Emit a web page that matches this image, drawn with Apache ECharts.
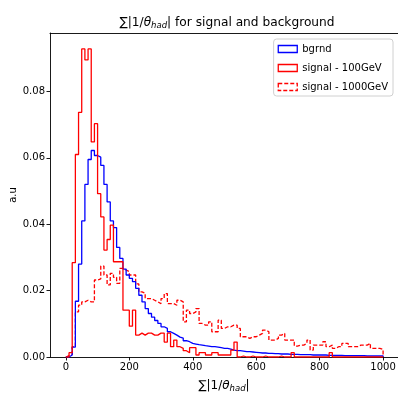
<!DOCTYPE html>
<html>
<head>
<meta charset="utf-8">
<script src="https://cdn.jsdelivr.net/npm/echarts@6/dist/echarts.min.js"></script>
<style>html,body{margin:0;padding:0;background:#fff}#c{width:398px;height:398px}</style>
</head>
<body>
<div id="c"></div>
<script>
// Bin left edges (width 10) from 0 to 990, plus final edge 1000
const binEdges = [0,10,20,30,40,50,60,70,80,90,100,110,120,130,140,150,160,170,180,190,200,210,220,230,240,250,260,270,280,290,300,310,320,330,340,350,360,370,380,390,400,410,420,430,440,450,460,470,480,490,500,510,520,530,540,550,560,570,580,590,600,610,620,630,640,650,660,670,680,690,700,710,720,730,740,750,760,770,780,790,800,810,820,830,840,850,860,870,880,890,900,910,920,930,940,950,960,970,980,990,1000];

const bgrnd = [0,0.0006,0.003,0.0168,0.028,0.041,0.052,0.0595,0.0622,0.0607,
0.0602,0.0577,0.052,0.0467,0.041,0.039,0.033,0.0297,0.0265,0.0247,
0.0237,0.0227,0.0207,0.0186,0.0166,0.0146,0.0131,0.012,0.011,0.0101,
0.0091,0.0086,0.0076,0.0071,0.0066,0.006,0.0057,0.0049,0.0046,0.0041,
0.0039,0.0037,0.0036,0.0034,0.0033,0.0031,0.0031,0.003,0.0028,0.0026,
0.0026,0.0024,0.0021,0.0019,0.0019,0.0018,0.0016,0.0016,0.0015,0.0014,
0.0013,0.0012,0.0012,0.0011,0.0011,0.001,0.001,0.0009,0.0009,0.0009,
0.0008,0.0008,0.0008,0.0007,0.0007,0.0007,0.0007,0.0006,0.0006,0.0006,
0.0006,0.0006,0.0005,0.0005,0.0005,0.0005,0.0005,0.0004,0.0004,0.0004,
0.0004,0.0004,0.0004,0.0004,0.0003,0.0003,0.0003,0.0003,0.0003,0.0003];

const signal100 = [0,0.0013,0.0284,0.061,0.0737,0.0928,0.0895,0.0928,0.0648,0.0703,
0.0492,0.0422,0.0322,0.0354,0.0397,0.0287,0.0287,0.0287,0.0141,0.0141,
0.0093,0.0141,0.0066,0.0072,0.0066,0.0072,0.0072,0.0066,0.0066,0.0072,
0.0072,0.0045,0.0072,0.0031,0.0051,0.0031,0.0026,0.0019,0.0013,0.0028,
0.0028,0.0006,0.0013,0.0013,0.0006,0.0006,0.0013,0.0013,0.0006,0.0006,
0.0006,0.0006,0.0021,0.0045,0,0.0003,0,0,0.0003,0,
0,0,0.0003,0,0,0,0,0.0003,0,0,
0,0.0013,0,0,0,0,0,0,0,0,
0,0,0,0.0013,0,0,0,0,0,0,
0,0,0,0,0,0,0,0,0,0];

const signal1000 = [0.0004,0.0008,0.0031,0.0136,0.0156,0.0166,0.0171,0.0166,0.0166,0.0232,
0.0235,0.0274,0.0247,0.0217,0.0252,0.024,0.0222,0.0267,0.0262,0.0257,
0.0247,0.0247,0.022,0.0196,0.0192,0.0176,0.0176,0.0171,0.0166,0.0161,
0.0176,0.0191,0.0161,0.0161,0.0156,0.0171,0.0166,0.0106,0.0141,0.0131,
0.0136,0.0146,0.0101,0.0096,0.0096,0.0106,0.0076,0.0076,0.0111,0.0086,
0.0091,0.0091,0.0096,0.0096,0.0086,0.0061,0.0061,0.0056,0.0061,0.0061,
0.0066,0.0071,0.0081,0.0076,0.0051,0.0051,0.0056,0.0066,0.0071,0.0051,
0.0051,0.0051,0.0033,0.0036,0.0036,0.0041,0.0051,0.0021,0.0036,0.0036,
0.0036,0.0046,0.0031,0.0036,0.0026,0.0031,0.0031,0.0041,0.0041,0.0031,
0.0031,0.0031,0.0036,0.0036,0.0036,0.0041,0.0026,0.0026,0.0026,0.0023];

const seriesNames = ['bgrnd','signal - 100GeV','signal - 1000GeV'];
const xTicks = [0,200,400,600,800,1000];
const yTicks = [0,0.02,0.04,0.06,0.08];

function stepPoints(vals){
  const pts = [[binEdges[0],0]];
  for (let i=0;i<vals.length;i++){
    pts.push([binEdges[i],vals[i]]);
    pts.push([binEdges[i+1],vals[i]]);
  }
  pts.push([binEdges[vals.length],0]);
  return pts;
}

const FONT = 'DejaVu Sans';
const chart = echarts.init(document.getElementById('c'), null, {renderer:'canvas'});
const mathRich = {
  s:{fontFamily:FONT,fontSize:12.2,fontWeight:'normal',color:'#000'},
  n:{fontFamily:FONT,fontSize:12.2,fontWeight:'normal',color:'#000'},
  it:{fontFamily:FONT,fontStyle:'italic',fontWeight:'normal',fontSize:12.2,color:'#000'},
  sub:{fontFamily:FONT,fontStyle:'italic',fontWeight:'normal',fontSize:8.5,color:'#000',padding:[6,0,0,0]}
};
const axRich = {
  s:{fontFamily:FONT,fontSize:12,color:'#000'},
  n:{fontFamily:FONT,fontSize:12,color:'#000'},
  it:{fontFamily:FONT,fontStyle:'italic',fontSize:12,color:'#000'},
  sub:{fontFamily:FONT,fontStyle:'italic',fontSize:8.5,color:'#000',padding:[6,0,0,0]}
};
const colors = ['#0000ff','#ff0000','#ff0000'];
const dashes = ['solid','solid',[4,2]];
const data = [bgrnd, signal100, signal1000];
const X_MIN = -50, X_MAX = 1047;

chart.setOption({
  animation:false,
  backgroundColor:'#fff',
  title:{
    text:'{s|∑|1/}{it|θ}{sub|had}{n|| for signal and background}',
    left:222, top:10, textAlign:'center',
    textStyle:{fontWeight:'normal',rich:mathRich}
  },
  legend:{
    orient:'vertical', right:5, top:39,
    itemWidth:19, itemHeight:7, itemGap:9,
    padding:[5,5,4,4],
    backgroundColor:'#fff', borderColor:'#d0d0d0', borderWidth:1, borderRadius:3,
    textStyle:{fontFamily:FONT,fontSize:10,color:'#000'},
    data: seriesNames.map((n,i)=>({
      name:n, icon:'rect',
      itemStyle:{color:'rgba(0,0,0,0)',borderColor:colors[i],borderWidth:1.3,borderType:dashes[i]}
    }))
  },
  grid:{left:50, top:33, right:0, height:324, show:false, containLabel:false, outerBoundsMode:'none'},
  xAxis:[{
    type:'value', min:X_MIN, max:X_MAX,
    name:'{s|∑|1/}{it|θ}{sub|had}{n||}', nameLocation:'middle', nameGap:21,
    nameTextStyle:{rich:axRich},
    splitLine:{show:false},
    axisLine:{show:true,onZero:false,lineStyle:{color:'#000',width:0.9}},
    axisTick:{show:true,length:3.5,lineStyle:{color:'#000',width:0.9},customValues:xTicks},
    axisLabel:{customValues:xTicks,color:'#000',fontFamily:FONT,fontSize:10,margin:5,
      formatter:v=>String(v)}
  },{
    type:'value', position:'top', min:X_MIN, max:X_MAX,
    splitLine:{show:false},
    axisLine:{show:true,onZero:false,lineStyle:{color:'#000',width:0.9}},
    axisTick:{show:false}, axisLabel:{show:false}
  }],
  yAxis:{
    type:'value', min:0, max:0.0976,
    name:'a.u', nameLocation:'middle', nameGap:32, nameRotate:90, nameMoveOverlap:false,
    nameTextStyle:{fontFamily:FONT,fontSize:10,color:'#000'},
    splitLine:{show:false},
    axisLine:{show:true,onZero:false,lineStyle:{color:'#000',width:0.9}},
    axisTick:{show:true,length:3.5,lineStyle:{color:'#000',width:0.9},customValues:yTicks},
    axisLabel:{customValues:yTicks,color:'#000',fontFamily:FONT,fontSize:10,margin:5,
      formatter:v=>v.toFixed(2)}
  },
  series: seriesNames.map((n,i)=>({
    name:n, type:'line', showSymbol:false, symbol:'none',
    xAxisIndex:0,
    data: stepPoints(data[i]),
    lineStyle:{color:colors[i], width:1.3, type:dashes[i]},
    itemStyle:{color:colors[i]},
    z: i===1?4:(i===0?3:2),
    clip:true
  }))
});
</script>
</body>
</html>
